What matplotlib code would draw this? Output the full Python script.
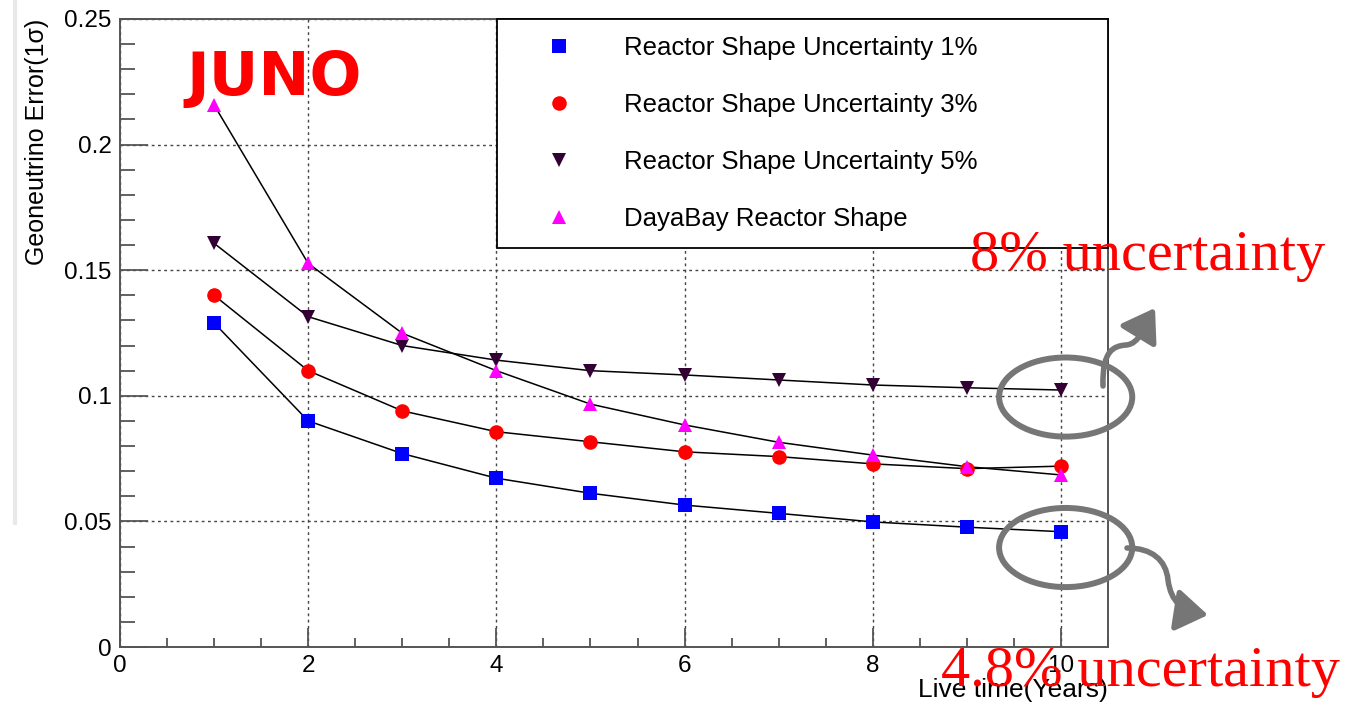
import numpy as np
import matplotlib
matplotlib.use("Agg")
import matplotlib.pyplot as plt
from matplotlib.patches import Ellipse, FancyArrowPatch
from matplotlib.path import Path
from matplotlib.lines import Line2D
from matplotlib.ticker import MultipleLocator, FuncFormatter

# live time in years
years = [1, 2, 3, 4, 5, 6, 7, 8, 9, 10]

# geoneutrino error (1 sigma) per reactor shape assumption
shape_1pct = [0.129, 0.090, 0.077, 0.0672, 0.0612, 0.0565, 0.0532, 0.0498, 0.0477, 0.0459]
shape_3pct = [0.140, 0.110, 0.094, 0.0857, 0.0817, 0.0777, 0.0758, 0.0729, 0.0710, 0.0720]
shape_5pct = [0.1607, 0.1315, 0.120, 0.1142, 0.110, 0.1083, 0.1063, 0.1043, 0.1032, 0.1023]
dayabay_shape = [0.2158, 0.1527, 0.1249, 0.110, 0.0967, 0.0884, 0.0815, 0.0764, 0.0718, 0.0685]

labels = ["Reactor Shape Uncertainty 1%", "Reactor Shape Uncertainty 3%",
          "Reactor Shape Uncertainty 5%", "DayaBay Reactor Shape"]

W, H = 1367, 702


def fig_xy(xp, yp):
    # reference pixel -> figure fraction
    return xp / W, 1 - yp / H


fig = plt.figure(figsize=(W / 100, H / 100), dpi=100)
ax = fig.add_axes([120 / W, 1 - 647 / H, (1108 - 120) / W, (647 - 19) / H])

series = [shape_1pct, shape_3pct, shape_5pct, dayabay_shape]
markers = ["s", "o", "v", "^"]
colors = ["#0000ff", "#ff0000", "#330033", "#ff00ff"]
sizes = [9.5, 10.5, 10, 10.5]

for values in series:
    ax.plot(years, values, color="black", lw=1.1, zorder=3)
for values, m, c, s, lab in zip(series, markers, colors, sizes, labels):
    ax.plot(years, values, ls="none", marker=m, color=c, markersize=s,
            markeredgewidth=0, label=lab, zorder=4)

ax.set_xlim(0, 10.5)
ax.set_ylim(0, 0.25)
ax.xaxis.set_major_locator(MultipleLocator(2))
ax.xaxis.set_minor_locator(MultipleLocator(0.5))
ax.yaxis.set_major_locator(MultipleLocator(0.05))
ax.yaxis.set_minor_locator(MultipleLocator(0.01))
ax.yaxis.set_major_formatter(FuncFormatter(lambda v, p: "%g" % round(v, 3)))

axis_gray = "#555555"
for sp in ax.spines.values():
    sp.set_color(axis_gray)
    sp.set_linewidth(1.4)

tick_font = "Liberation Sans"
ax.tick_params(axis="y", which="major", direction="in", length=20, width=1.3,
               color=axis_gray, labelsize=17.5, pad=6)
ax.tick_params(axis="y", which="minor", direction="in", length=10.5, width=1.3, color=axis_gray)
ax.tick_params(axis="x", which="major", direction="in", length=13.5, width=1.3,
               color=axis_gray, labelsize=17.5, pad=6)
ax.tick_params(axis="x", which="minor", direction="in", length=6.8, width=1.3, color=axis_gray)
for lab in ax.get_xticklabels() + ax.get_yticklabels():
    lab.set_fontfamily(tick_font)

ax.grid(which="major", ls=(0, (2, 2.5)), color="#444444", lw=1)

ax.set_ylabel("Geoneutrino Error(1σ)", loc="top", fontsize=18, fontfamily=tick_font)
ax.yaxis.set_label_coords(-0.072, 1.0)
ax.set_xlabel("Live time(Years)", loc="right", fontsize=19, fontfamily=tick_font)
ax.xaxis.set_label_coords(1.0, -0.05)

leg = ax.legend(loc="upper left", bbox_to_anchor=(0.3816, 0, 0.6184, 1.0), mode="expand",
                borderaxespad=0, fancybox=False, edgecolor="black", framealpha=1,
                numpoints=1, handlelength=3.5, handletextpad=0.78, borderpad=0.66,
                labelspacing=1.28, prop={"family": tick_font, "size": 18.5})
leg.get_frame().set_linewidth(1.3)
leg.set_zorder(5)

# highlight ellipses around 10-year points
ring_gray = "#767676"
for cy in [0.0995, 0.0396]:
    ax.add_patch(Ellipse((10.05, cy), 1.415, 0.0315, fill=False, edgecolor=ring_gray,
                         lw=4.3, clip_on=False, zorder=6))

# wavy arrows
up_path = Path([fig_xy(1103, 386), fig_xy(1102, 350), fig_xy(1114, 346), fig_xy(1126, 345),
                fig_xy(1140, 344), fig_xy(1144, 326), fig_xy(1155, 308)],
               [Path.MOVETO] + [Path.CURVE4] * 6)
down_path = Path([fig_xy(1127, 548), fig_xy(1152, 548), fig_xy(1166, 560), fig_xy(1168, 580),
                  fig_xy(1171, 602), fig_xy(1182, 611), fig_xy(1208, 615)],
                 [Path.MOVETO] + [Path.CURVE4] * 6)
for p in [up_path, down_path]:
    arr = FancyArrowPatch(path=p, arrowstyle="-|>,head_length=1.2,head_width=0.8",
                          mutation_scale=16, color=ring_gray, lw=4,
                          transform=fig.transFigure, zorder=7)
    fig.add_artist(arr)

# annotations
fig.text(*fig_xy(186, 95), "JUNO", color="#ff0000", fontsize=44, fontweight="bold",
         fontfamily="DejaVu Sans", ha="left", va="baseline")
fig.text(*fig_xy(970, 270), "8% uncertainty", color="#ff0000", fontsize=42,
         fontfamily="Liberation Serif", ha="left", va="baseline", zorder=8)
fig.text(*fig_xy(941, 686), "4.8% uncertainty", color="#ff0000", fontsize=42,
         fontfamily="Liberation Serif", ha="left", va="baseline", zorder=8)

# faint shadow line at the left edge of the screenshot
fig.add_artist(Line2D([15 / W, 15 / W], [1, 1 - 523 / H], color="#e8e8e8", lw=3))

fig.savefig("out.png", dpi=100)
